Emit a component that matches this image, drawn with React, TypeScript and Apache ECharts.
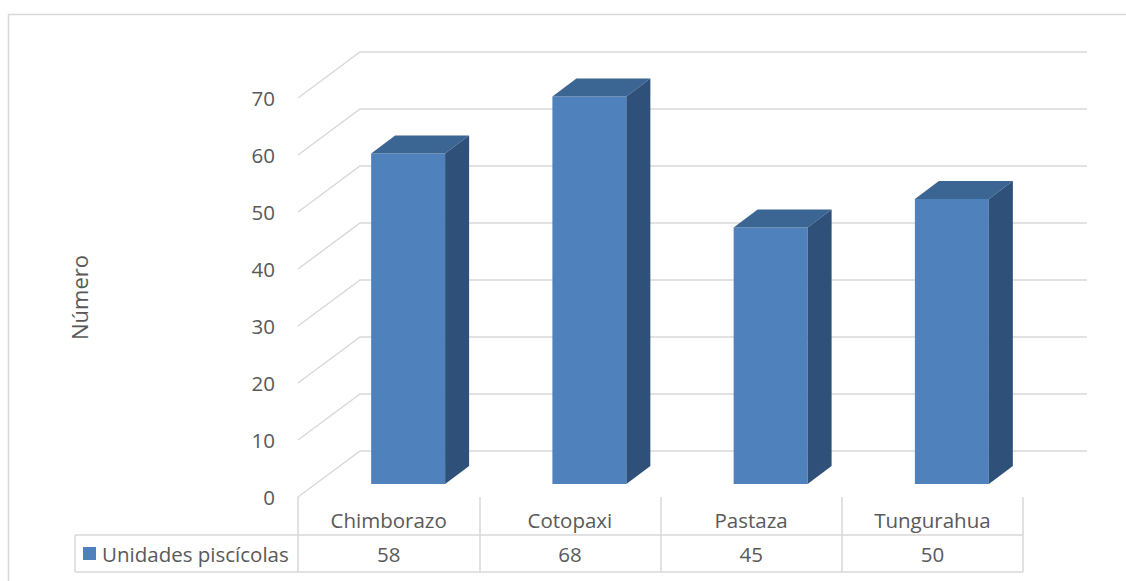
import React, { useEffect, useRef } from "react";
import * as echarts from "echarts";

const categories = ["Chimborazo", "Cotopaxi", "Pastaza", "Tungurahua"];
const seriesName = "Unidades piscícolas";
const values = [58, 68, 45, 50];
const yTicks = [0, 10, 20, 30, 40, 50, 60, 70];

const FONT = "'Open Sans', sans-serif";
const FS = 20.5;
const TEXT = "#595959";
const LINE = "#d9d9d9";
const FRONT = "#4F81BD";
const TOP = "#3B6592";
const SIDE = "#2F5078";

// floor depth of the 3D wall
const WALL_DX = 62;
const WALL_DY = -46;

export default function App() {
  const ref = useRef<HTMLDivElement>(null);
  useEffect(() => {
    document.body.style.margin = "0";
    const chart = echarts.init(ref.current!, undefined, { renderer: "svg" });
    const option: any = {
      animation: false,
      backgroundColor: "#ffffff",
      grid: { left: 298, right: 103, top: 98, bottom: 84 },
      xAxis: {
        type: "category",
        data: categories,
        boundaryGap: true,
        axisLine: { show: false },
        axisTick: { show: true, length: 75, lineStyle: { color: LINE, width: 1.5 } },
        axisLabel: { color: TEXT, fontFamily: FONT, fontSize: FS, margin: 12 },
        splitLine: { show: false },
      },
      yAxis: {
        type: "value",
        min: 0,
        max: 70,
        interval: 10,
        axisLine: { show: false },
        axisTick: { show: false },
        splitLine: { show: false },
        axisLabel: { color: TEXT, fontFamily: FONT, fontSize: FS, margin: 23 },
        name: "Número",
        nameLocation: "middle",
        nameRotate: 90,
        nameGap: 208,
        nameTextStyle: { color: TEXT, fontFamily: FONT, fontSize: 22 },
      },
      graphic: [
        {
          type: "rect",
          shape: { x: 8.5, y: 14.5, width: 1140, height: 600 },
          style: { fill: "none", stroke: LINE, lineWidth: 1.5 },
          silent: true,
          z: -10,
        },
        {
          type: "line",
          shape: { x1: 75, y1: 535, x2: 1023, y2: 535 },
          style: { stroke: LINE, lineWidth: 1.5 },
        },
        {
          type: "line",
          shape: { x1: 75, y1: 572, x2: 1023, y2: 572 },
          style: { stroke: LINE, lineWidth: 1.5 },
        },
        {
          type: "line",
          shape: { x1: 75, y1: 535, x2: 75, y2: 572 },
          style: { stroke: LINE, lineWidth: 1.5 },
        },
        {
          type: "rect",
          shape: { x: 83, y: 547, width: 13, height: 13 },
          style: { fill: FRONT },
        },
        {
          type: "text",
          x: 102,
          y: 554,
          style: {
            text: seriesName,
            fill: TEXT,
            font: `${FS}px ${FONT}`,
            verticalAlign: "middle",
            align: "left",
          },
        },
      ],
      series: [
        {
          type: "custom",
          name: "grid3d",
          silent: true,
          z: 1,
          data: yTicks.map((v) => [0, v]),
          encode: { x: 0, y: 1 },
          renderItem: (params: any, api: any) => {
            const cs = params.coordSys;
            const v = api.value(1);
            const y = api.coord([0, v])[1];
            const fx = cs.x;
            const bx = fx + WALL_DX;
            const by = y + WALL_DY;
            const rx = cs.x + cs.width + WALL_DX + 2;
            return {
              type: "polyline",
              shape: { points: [[fx, y], [bx, by], [rx, by]] },
              style: { stroke: LINE, lineWidth: 1.5, fill: "none" },
            };
          },
        },
        {
          type: "custom",
          name: seriesName,
          z: 3,
          data: values.map((v, i) => [i, v]),
          encode: { x: 0, y: 1 },
          renderItem: (params: any, api: any) => {
            const i = api.value(0);
            const v = api.value(1);
            const base = api.coord([i, 0]);
            const top = api.coord([i, v]);
            const band = api.size([1, 0])[0];
            const w = band * 0.408;
            const cx = base[0] + 19.5;
            const x0 = cx - w / 2;
            const x1 = cx + w / 2;
            const yb = base[1] - 13;
            const yt = top[1] - 13;
            const dx = 24;
            const dy = -18;
            return {
              type: "group",
              children: [
                {
                  type: "rect",
                  shape: { x: x0, y: yt, width: w, height: yb - yt },
                  style: { fill: FRONT },
                },
                {
                  type: "polygon",
                  shape: {
                    points: [
                      [x0, yt],
                      [x0 + dx, yt + dy],
                      [x1 + dx, yt + dy],
                      [x1, yt],
                    ],
                  },
                  style: { fill: TOP },
                },
                {
                  type: "polygon",
                  shape: {
                    points: [
                      [x1, yt],
                      [x1 + dx, yt + dy],
                      [x1 + dx, yb + dy],
                      [x1, yb],
                    ],
                  },
                  style: { fill: SIDE },
                },
              ],
            };
          },
        },
        {
          type: "custom",
          name: "table",
          silent: true,
          z: 4,
          data: values.map((v, i) => [i, v]),
          encode: { x: 0, y: 1 },
          renderItem: (params: any, api: any) => {
            const i = api.value(0);
            const v = api.value(1);
            const base = api.coord([i, 0]);
            return {
              type: "text",
              x: base[0],
              y: base[1] + 57,
              style: {
                text: String(v),
                fill: TEXT,
                font: `${FS}px ${FONT}`,
                align: "center",
                verticalAlign: "middle",
              },
            };
          },
        },
      ],
    };
    chart.setOption(option);
    return () => chart.dispose();
  }, []);
  return (
    <div
      ref={ref}
      style={{ position: "fixed", left: 0, top: 0, width: 1126, height: 581 }}
    />
  );
}
